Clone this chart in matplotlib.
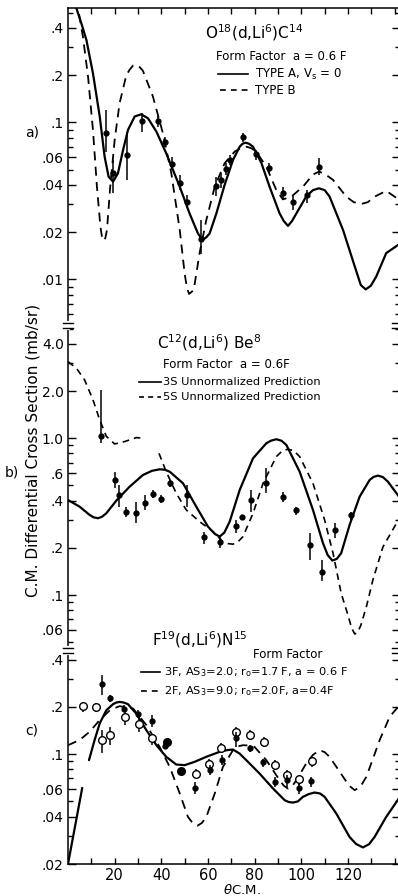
import numpy as np
import matplotlib.pyplot as plt
from matplotlib.lines import Line2D
from matplotlib.ticker import FixedLocator, FixedFormatter, NullFormatter

plt.rcParams['font.family'] = ['DejaVu Sans']
plt.rcParams['mathtext.default'] = 'regular'

W, H = 398, 896

# ==================== a) O18(d,Li6)C14 ====================
a_th_A = [2.5, 3.6, 5.7, 7.9, 10.7, 13.6, 15.7, 17.4, 19.3, 21.4, 23.6, 25.7, 28.6, 31.4, 34.3,
          37.9, 42.1, 47.9, 52.1, 55.7, 56.9, 58.1, 59.4, 60.7, 63.6, 67.1, 70.7, 73.6, 74.8,
          76.1, 77.6, 79.3, 82.9, 86.4, 90.7, 92.5, 94.3, 96.0, 97.9, 102.1, 105.0, 107.6, 110.0,
          112.1, 117.9, 122.9, 125.5, 127.6, 129.8, 132.1, 136.4, 142.1]
a_sig_A = [0.70, 0.532, 0.428, 0.334, 0.205, 0.109, 0.0604, 0.0451, 0.0419, 0.0473, 0.0666, 0.0894,
           0.109, 0.1125, 0.106, 0.0872, 0.0635, 0.0389, 0.0263, 0.0196, 0.0185, 0.018, 0.0186,
           0.0196, 0.0263, 0.0398, 0.0575, 0.070, 0.073, 0.0742, 0.073, 0.070, 0.055, 0.0389,
           0.0263, 0.0235, 0.0219, 0.0235, 0.0263, 0.0337, 0.037, 0.038, 0.037, 0.0337, 0.0206,
           0.0121, 0.0092, 0.00863, 0.0091, 0.0104, 0.0147, 0.0168]
a_th_B = [3.0, 4.3, 6.4, 8.6, 10.7, 12.4, 13.9, 14.6, 15.3, 16.0, 16.7, 18.1, 20.0, 22.1, 25.0,
          26.5, 27.9, 29.3, 30.7, 32.1, 36.4, 40.7, 44.3, 47.9, 50.0, 51.0, 51.9, 53.9, 56.4,
          59.3, 62.9, 67.1, 71.4, 74.0, 76.4, 78.5, 80.7, 85.0, 89.3, 92.1, 95.7, 100.7, 105.0,
          107.6, 110.0, 113.6, 119.3, 122.5, 125.7, 128.5, 131.4, 136.4, 142.1]
a_sig_B = [0.75, 0.532, 0.351, 0.195, 0.0894, 0.0389, 0.0216, 0.0185, 0.0176, 0.0183, 0.0206,
           0.0389, 0.0771, 0.132, 0.20, 0.217, 0.23, 0.232, 0.225, 0.213, 0.146, 0.085, 0.0473,
           0.0206, 0.0109, 0.0088, 0.00807, 0.00855, 0.0147, 0.0239, 0.0389, 0.0548, 0.065,
           0.0685, 0.070, 0.0685, 0.065, 0.0522, 0.037, 0.0323, 0.0336, 0.0389, 0.0465, 0.0485,
           0.047, 0.043, 0.0336, 0.031, 0.0302, 0.031, 0.0336, 0.0366, 0.032]
a_th = [16.1, 19.3, 25.4, 31.9, 38.4, 41.4, 44.6, 47.9, 51.0, 57.1, 63.3, 65.7, 67.9, 69.3,
        75.1, 80.7, 86.1, 92.1, 96.6, 102.4, 107.6]
a_sig = [0.085, 0.0478, 0.062, 0.102, 0.1025, 0.0753, 0.0543, 0.0413, 0.0313, 0.0182, 0.0393,
         0.043, 0.0502, 0.0575, 0.0802, 0.0628, 0.0514, 0.0356, 0.0313, 0.0343, 0.0516]
a_lo = [0.065, 0.0353, 0.043, 0.0872, 0.094, 0.070, 0.0497, 0.037, 0.0284, 0.0146, 0.0337,
        0.038, 0.0462, 0.0535, 0.0753, 0.0575, 0.0473, 0.0323, 0.0277, 0.0305, 0.046]
a_hi = [0.12, 0.0575, 0.085, 0.114, 0.109, 0.081, 0.0604, 0.046, 0.0345, 0.0239, 0.045,
        0.0473, 0.0548, 0.062, 0.085, 0.0667, 0.0548, 0.039, 0.0337, 0.037, 0.059]
a_yticks = [0.4, 0.2, 0.1, 0.06, 0.04, 0.02, 0.01]
a_ylabels = ['.4', '.2', '.1', '.06', '.04', '.02', '.01']
a_yminor = [0.5, 0.3, 0.09, 0.08, 0.07, 0.05, 0.03, 0.009, 0.008, 0.007, 0.006]

# ==================== b) C12(d,Li6)Be8 ====================
b_th_3S = [0, 5, 9.3, 11.0, 12.9, 14.6, 16.4, 20.7, 26.4, 32.1, 36.0, 39.3, 41.5, 43.6, 49.3,
           55, 60, 63, 65, 67, 69.3, 73.6, 79.3, 85, 87, 89.3, 91.5, 93.6, 99.3, 105, 109.3,
           111.3, 113.3, 115.2, 117.1, 120.7, 125, 129.3, 131, 132.9, 135, 137.1, 142.1]
b_sig_3S = [0.404, 0.366, 0.324, 0.313, 0.309, 0.316, 0.332, 0.40, 0.491, 0.583, 0.62, 0.634,
            0.63, 0.612, 0.516, 0.366, 0.273, 0.245, 0.236, 0.25, 0.294, 0.468, 0.745, 0.929,
            0.965, 0.986, 0.965, 0.906, 0.612, 0.349, 0.214, 0.18, 0.166, 0.17, 0.185, 0.28,
            0.424, 0.542, 0.567, 0.578, 0.565, 0.529, 0.42]
b_th_5S1 = [0, 3.6, 7.1, 10.7, 13.6, 16.4, 20, 24.3, 29.3, 32.4]
b_sig_5S1 = [3.08, 2.8, 2.36, 1.76, 1.31, 1.03, 0.92, 0.953, 1.01, 1.0]
b_th_5S2 = [39, 42.1, 46.4, 50.7, 56.4, 62.1, 66.4, 68.5, 70.7, 72.8, 75, 79.3, 83.6, 89.3, 92,
            94.3, 96.7, 99.3, 105, 110, 113.6, 117.1, 120, 121.5, 122.9, 124.2, 125.5, 127.9,
            130.7, 135, 142.1]
b_sig_5S2 = [0.802, 0.612, 0.446, 0.349, 0.294, 0.254, 0.219, 0.213, 0.211, 0.218, 0.236, 0.332,
             0.516, 0.764, 0.835, 0.851, 0.835, 0.764, 0.516, 0.301, 0.185, 0.1025, 0.0745,
             0.062, 0.0564, 0.058, 0.064, 0.0843, 0.125, 0.203, 0.31]
b_th = [14.3, 20, 21.9, 25, 29, 32.9, 36.4, 40, 43.6, 51, 58.3, 65, 72.1, 74.7, 78.6, 85, 92.1,
        97.9, 103.6, 108.7, 114.3, 121.4]
b_sig = [1.035, 0.542, 0.435, 0.34, 0.332, 0.388, 0.44, 0.408, 0.521, 0.435, 0.236, 0.219, 0.276,
         0.313, 0.404, 0.516, 0.424, 0.349, 0.208, 0.141, 0.26, 0.324]
b_lo = [0.93, 0.48, 0.366, 0.316, 0.287, 0.349, 0.414, 0.385, 0.491, 0.366, 0.213, 0.199, 0.248,
        0.305, 0.34, 0.446, 0.394, 0.324, 0.167, 0.122, 0.23, 0.302]
b_hi = [2.03, 0.613, 0.504, 0.366, 0.394, 0.435, 0.468, 0.435, 0.542, 0.504, 0.254, 0.242, 0.301,
        0.322, 0.468, 0.643, 0.457, 0.366, 0.248, 0.167, 0.287, 0.34]
b_yticks = [4.0, 2.0, 1.0, 0.6, 0.4, 0.2, 0.1, 0.06]
b_ylabels = ['4.0', '2.0', '1.0', '.6', '.4', '.2', '.1', '.06']
b_yminor = [5, 3, 0.9, 0.8, 0.7, 0.5, 0.3, 0.09, 0.08, 0.07, 0.05]

# ==================== c) F19(d,Li6)N15 ====================
c_th_3F0 = [0, 6.1]
c_sig_3F0 = [0.02, 0.061]
c_th_3F = [9.0, 11.4, 13.6, 16.4, 19.3, 20.7, 22.1, 23.9, 25.7, 29.3, 33.6, 37.9, 42.1, 46.4, 50,
           54.3, 59.3, 65, 68, 70.7, 73.5, 76.4, 82.1, 87.9, 92.9, 94.6, 96.4, 98.5, 100.7, 103.2,
           105.7, 108, 110, 115, 120.7, 123.5, 126.4, 129, 131.4, 136.4, 142.1]
c_sig_3F = [0.0916, 0.123, 0.157, 0.19, 0.208, 0.213, 0.215, 0.213, 0.208, 0.181, 0.142, 0.114,
            0.0962, 0.0859, 0.0851, 0.0894, 0.0962, 0.1035, 0.106, 0.107, 0.101, 0.0916, 0.0753,
            0.0604, 0.0509, 0.0496, 0.0492, 0.050, 0.0535, 0.0557, 0.057, 0.0562, 0.0535, 0.0419,
            0.0297, 0.0268, 0.0255, 0.0267, 0.0297, 0.0399, 0.053]
c_th_2F = [0, 5, 9.3, 13.6, 17.9, 22.1, 27.9, 33.6, 39.3, 43.6, 47.9, 51.4, 53.4, 55.4, 57.4,
           59.3, 62.9, 66.4, 70.7, 72.8, 75, 77.5, 80, 85, 90.7, 92.5, 94.3, 96.1, 97.9, 102.1,
           105, 107.9, 110, 112.1, 117.9, 120.5, 122.9, 125.3, 127.9, 133.6, 137.9, 142.1]
c_sig_2F = [0.114, 0.123, 0.139, 0.165, 0.19, 0.202, 0.195, 0.153, 0.111, 0.083, 0.0562, 0.0399,
            0.0365, 0.035, 0.0365, 0.0399, 0.0562, 0.083, 0.106, 0.112, 0.114, 0.1135, 0.111,
            0.0916, 0.0683, 0.063, 0.0604, 0.0625, 0.0683, 0.0872, 0.099, 0.106, 0.103, 0.0962,
            0.0718, 0.063, 0.059, 0.062, 0.0718, 0.123, 0.173, 0.205]
c_th_open = [6.4, 11.9, 14.7, 18.1, 24.3, 30.4, 36.1, 54.7, 60.4, 65.7, 72.1, 78.1, 83.9, 88.6,
             93.9, 99.0, 104.7]
c_sig_open = [0.202, 0.2, 0.123, 0.132, 0.173, 0.155, 0.126, 0.0753, 0.0872, 0.11, 0.139, 0.133,
              0.12, 0.0859, 0.0735, 0.0693, 0.0902]
c_lo_open = [0.186, 0.186, 0.101, 0.114, 0.153, 0.139, 0.114, 0.07, 0.081, 0.1035, 0.129, 0.123,
             0.111, 0.079, 0.0683, 0.0635, 0.083]
c_hi_open = [0.215, 0.212, 0.142, 0.149, 0.19, 0.169, 0.135, 0.081, 0.0938, 0.117, 0.149, 0.142,
             0.129, 0.0916, 0.079, 0.0735, 0.0962]
c_th_fill = [14.6, 17.9, 23.9, 30.0, 36.1, 41.4, 54.3, 60.7, 66.0, 72.1, 78.1, 83.6, 88.6, 93.9,
             99.0, 104.3]
c_sig_fill = [0.279, 0.227, 0.195, 0.18, 0.163, 0.112, 0.061, 0.079, 0.0916, 0.126, 0.109, 0.0894,
              0.0666, 0.0683, 0.061, 0.0673]
c_lo_fill = [0.238, 0.216, 0.186, 0.169, 0.149, 0.108, 0.0561, 0.0735, 0.085, 0.111, 0.1035, 0.083,
             0.062, 0.062, 0.0561, 0.062]
c_hi_fill = [0.319, 0.238, 0.205, 0.19, 0.177, 0.116, 0.0666, 0.085, 0.0986, 0.139, 0.114, 0.0938,
             0.0718, 0.0735, 0.065, 0.0718]
c_th_big = [42.4, 48.3]
c_sig_big = [0.12, 0.0783]
c_yticks = [0.4, 0.2, 0.1, 0.06, 0.04, 0.02]
c_ylabels = ['.4', '.2', '.1', '.06', '.04', '.02']
c_yminor = [0.3, 0.09, 0.08, 0.07, 0.05, 0.03]

x_ticks = [20, 40, 60, 80, 100, 120]
x_ticklabels = ['20', '40', '60', '80', '100', '120']
x_minor = [10, 30, 50, 70, 90, 110, 130, 140]


def fx(x):
    return x / W


def fy(y):
    return 1 - y / H


X0, X1 = 68, 399.5        # left spine and (off-picture) right spine, px
fig = plt.figure(figsize=(W / 100, H / 100), dpi=100)
ax_a = fig.add_axes([fx(X0), fy(325), (X1 - X0) / W, 317 / H])
ax_b = fig.add_axes([fx(X0), fy(650), (X1 - X0) / W, 325 / H])
ax_c = fig.add_axes([fx(X0), fy(864), (X1 - X0) / W, 214 / H])

solid = dict(color='k', lw=1.6, solid_capstyle='round', solid_joinstyle='round')
dashed = dict(color='k', lw=1.3, ls=(0, (5, 3.5)))
pts = dict(fmt='o', color='k', ms=3.5, elinewidth=1.1, capsize=0, xerr=0.6)

# a)
ax_a.plot(a_th_A, a_sig_A, **solid)
ax_a.plot(a_th_B, a_sig_B, **dashed)
a_s = np.array(a_sig)
ax_a.errorbar(a_th, a_s, yerr=[a_s - np.array(a_lo), np.array(a_hi) - a_s], **pts)

# b)
ax_b.plot(b_th_3S, b_sig_3S, **solid)
ax_b.plot(b_th_5S1, b_sig_5S1, color='k', lw=1.2, ls=(0, (4, 3)))
ax_b.plot(b_th_5S2, b_sig_5S2, color='k', lw=1.2, ls=(0, (4, 3)))
b_s = np.array(b_sig)
ax_b.errorbar(b_th, b_s, yerr=[b_s - np.array(b_lo), np.array(b_hi) - b_s], **pts)

# c)
ax_c.plot(c_th_3F0, c_sig_3F0, **solid)
ax_c.plot(c_th_3F, c_sig_3F, **solid)
ax_c.plot(c_th_2F, c_sig_2F, **dashed)
co = np.array(c_sig_open)
ax_c.errorbar(c_th_open, co, yerr=[co - np.array(c_lo_open), np.array(c_hi_open) - co],
              fmt='o', color='k', mfc='white', mec='k', mew=1.0, ms=5.5, elinewidth=1.1,
              capsize=0, zorder=4)
cf = np.array(c_sig_fill)
ax_c.errorbar(c_th_fill, cf, yerr=[cf - np.array(c_lo_fill), np.array(c_hi_fill) - cf],
              zorder=5, **pts)
ax_c.plot(c_th_big, c_sig_big, 'o', color='k', ms=5.5)

xmax = (X1 - X0) / 2.333
limits = [(ax_a, (0.00512, 0.5346), a_yticks, a_ylabels, a_yminor),
          (ax_b, (0.0446, 5.28), b_yticks, b_ylabels, b_yminor),
          (ax_c, (0.02, 0.46), c_yticks, c_ylabels, c_yminor)]
for ax, yl, yt, ylab, ymin in limits:
    ax.set_yscale('log')
    ax.set_xlim(0, xmax)
    ax.set_ylim(*yl)
    ax.yaxis.set_major_locator(FixedLocator(yt))
    ax.yaxis.set_major_formatter(FixedFormatter(ylab))
    ax.yaxis.set_minor_locator(FixedLocator(ymin))
    ax.yaxis.set_minor_formatter(NullFormatter())
    ax.xaxis.set_major_locator(FixedLocator(x_ticks))
    ax.xaxis.set_major_formatter(FixedFormatter(x_ticklabels))
    ax.xaxis.set_minor_locator(FixedLocator(x_minor))
    ax.tick_params(axis='y', which='both', direction='in', left=True, right=True,
                   labelsize=10, pad=3, width=1)
    ax.tick_params(axis='y', which='major', length=6)
    ax.tick_params(axis='y', which='minor', length=3.5)
    ax.tick_params(axis='x', which='both', direction='in', length=4, width=1,
                   top=False, bottom=False, labelbottom=False, labelsize=10.5, pad=3)
    for s in ax.spines.values():
        s.set_linewidth(1.1)
    ax.spines['right'].set_visible(False)
    ax.patch.set_alpha(0)

ax_a.spines['bottom'].set_visible(False)
ax_a.tick_params(axis='x', which='both', top=True)
ax_b.spines['top'].set_visible(False)
ax_b.spines['bottom'].set_visible(False)
ax_c.spines['top'].set_visible(False)
ax_c.tick_params(axis='x', which='both', bottom=True, labelbottom=True)

# axis breaks
for yb in (325.5, 650.5):
    fig.add_artist(Line2D([fx(X0)] * 2, [fy(yb - 2.5), fy(yb + 2.5)], color='white',
                          lw=3, transform=fig.transFigure, zorder=10))
    for dy in (-2.5, 2.5):
        fig.add_artist(Line2D([fx(X0 - 5), fx(X0 + 5)], [fy(yb + dy)] * 2, color='k',
                              lw=1, transform=fig.transFigure, zorder=11))
        fig.add_artist(Line2D([fx(392), fx(398)], [fy(yb + dy)] * 2, color='k',
                              lw=1, transform=fig.transFigure, zorder=11))

# labels
fig.text(fx(33), fy(450), 'C.M. Differential Cross Section (mb/sr)', rotation=90,
         ha='center', va='center', fontsize=11)
fig.text(fx(242), fy(890), r'$\mathit{\theta}$C.M.', ha='center', va='center', fontsize=9.5)
for lab, xx, yy in (('a)', 32, 133), ('b)', 12, 472), ('c)', 32, 730)):
    fig.text(fx(xx), fy(yy), lab, ha='center', va='center', fontsize=10)


def legend_line(x0, x1, y, style):
    fig.add_artist(Line2D([fx(x0), fx(x1)], [fy(y)] * 2, transform=fig.transFigure, **style))


fig.text(fx(205), fy(33), r'O$^{18}$(d,Li$^{6}$)C$^{14}$', va='center', fontsize=11)
fig.text(fx(216), fy(57), 'Form Factor  a = 0.6 F', va='center', fontsize=8.5)
legend_line(218, 248, 74, dict(color='k', lw=1.2))
fig.text(fx(255), fy(74), r'TYPE A, V$_s$ = 0', va='center', fontsize=8.5)
legend_line(220, 248, 90, dict(color='k', lw=1.2, ls=(0, (3.5, 3))))
fig.text(fx(255), fy(90), 'TYPE B', va='center', fontsize=8.5)

fig.text(fx(157), fy(343), r'C$^{12}$(d,Li$^{6}$) Be$^{8}$', va='center', fontsize=11)
fig.text(fx(163), fy(364), 'Form Factor  a = 0.6F', va='center', fontsize=8.5)
legend_line(139, 161, 382, dict(color='k', lw=1.2))
fig.text(fx(163), fy(382), '3S Unnormalized Prediction', va='center', fontsize=8.2)
legend_line(139, 161, 397, dict(color='k', lw=1.2, ls=(0, (3, 2.5))))
fig.text(fx(163), fy(397), '5S Unnormalized Prediction', va='center', fontsize=8.2)

fig.text(fx(152), fy(640), r'F$^{19}$(d,Li$^{6}$)N$^{15}$', va='center', fontsize=11)
fig.text(fx(253), fy(655), 'Form Factor', va='center', fontsize=8.5)
legend_line(141, 160, 672, dict(color='k', lw=1.2))
fig.text(fx(164), fy(672), r'3F, AS$_3$=2.0; r$_o$=1.7 F, a = 0.6 F', va='center', fontsize=8.2)
legend_line(141, 160, 691, dict(color='k', lw=1.2, ls=(0, (3.5, 3))))
fig.text(fx(164), fy(691), r'2F, AS$_3$=9.0; r$_o$=2.0F, a=0.4F', va='center', fontsize=8.2)

fig.savefig('out.png', dpi=100)
